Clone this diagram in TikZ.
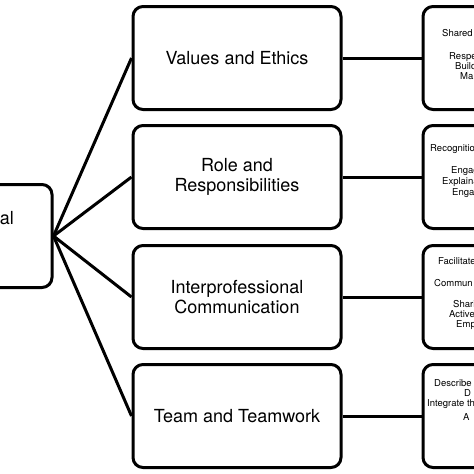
\documentclass[tikz,border=0pt]{standalone}
\usepackage{fontspec}
\setmainfont{TeX Gyre Heros}
\usetikzlibrary{positioning}

\begin{document}
\begin{tikzpicture}[x=1pt,y=-1pt,
    roundbox/.style={draw,line width=3pt,rounded corners=10pt,minimum width=208pt,minimum height=103pt,inner sep=0pt},
    domainbox/.style={roundbox,align=center,font=\fontsize{18}{20}\selectfont},
    linkline/.style={line width=3pt},
    detailtext/.style={anchor=base west,inner sep=0pt,font=\fontsize{9.5}{10}\selectfont}]
    \useasboundingbox (0,0) rectangle (474,474);
    \clip (0,0) rectangle (474,474);

    % root box, mostly off the page
    \node[roundbox] (core) at (-52,236) {};
    \node[anchor=base east,inner sep=0pt,font=\fontsize{18}{20}\selectfont] (coretext) at (14,224) {Interprofessional};

    % the four domains
    \node[domainbox] (ethics) at (237,58) {Values and Ethics};
    \node[domainbox] (roles) at (237,177) {Role and\\Responsibilities};
    \node[domainbox] (comm) at (237,297) {Interprofessional\\Communication};
    \node[domainbox] (team) at (237,416) {Team and Teamwork};

    % detail boxes, cut by the page edge
    \node[roundbox] (ethicsd) at (527,58) {};
    \node[roundbox] (rolesd) at (527,177) {};
    \node[roundbox] (commd) at (527,297) {};
    \node[roundbox] (teamd) at (527,416) {};

    \node[detailtext] (e1) at (442,36) {Shared};
    \node[detailtext] (e2) at (449,59) {Respec};
    \node[detailtext] (e3) at (455,69) {Build};
    \node[detailtext] (e4) at (460,79) {Ma};

    \node[detailtext] (r1) at (430,151) {Recognitio};
    \node[detailtext] (r2) at (451,173) {Engag};
    \node[detailtext] (r3) at (442,184) {Explaina};
    \node[detailtext] (r4) at (452,195) {Engag};

    \node[detailtext] (c1) at (438,264) {Facilitate};
    \node[detailtext] (c2) at (434,286) {Commun};
    \node[detailtext] (c3) at (453,307) {Sharin};
    \node[detailtext] (c4) at (449,317) {Active};
    \node[detailtext] (c5) at (456,327) {Emp};

    \node[detailtext] (t1) at (434,386) {Describe};
    \node[detailtext] (t2) at (464,396) {D};
    \node[detailtext] (t3) at (427,406) {Integrate th};
    \node[detailtext] (t4) at (463,420) {A};

    \draw[linkline] (core.east) -- (ethics.west);
    \draw[linkline] (core.east) -- (roles.west);
    \draw[linkline] (core.east) -- (comm.west);
    \draw[linkline] (core.east) -- (team.west);

    \draw[linkline] (ethics.east) -- (ethicsd.west);
    \draw[linkline] (roles.east) -- (rolesd.west);
    \draw[linkline] (comm.east) -- (commd.west);
    \draw[linkline] (team.east) -- (teamd.west);
\end{tikzpicture}
\end{document}
